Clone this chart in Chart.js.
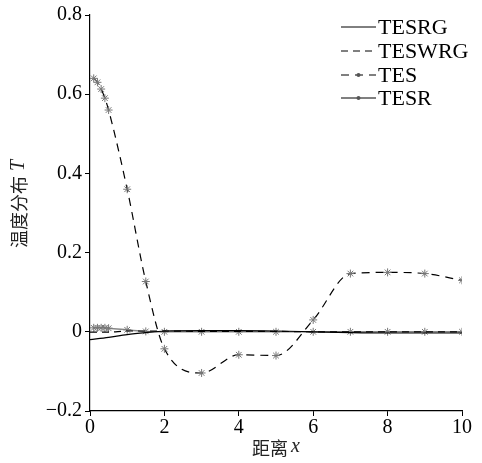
<!DOCTYPE html>
<html>
<head>
<meta charset="utf-8">
<script src="https://cdn.jsdelivr.net/npm/chart.js@4.4.0/dist/chart.umd.min.js"></script>
<style>
html,body{margin:0;padding:0;background:#fff;}
#wrap{width:482px;height:463px;}
</style>
</head>
<body>
<div id="wrap"><canvas id="c" width="482" height="463"></canvas></div>
<script>
// ---- data ----
const seriesNames = ["TESRG", "TESWRG", "TES", "TESR"];
const xLine = [0, 0.5, 1, 1.5, 2, 3, 4, 5, 6, 7, 8, 9, 10];
const tesrg = [-0.02, -0.014, -0.007, -0.002, 0.002, 0.003, 0.003, 0.002, 0.0, -0.002, -0.003, -0.003, -0.003];
const teswrg = [-0.001, -0.001, 0.002, 0.002, 0.002, 0.001, 0.001, 0.001, 0.0, 0.0, 0.0, 0.0, 0.0];
const xMark = [0.1, 0.2, 0.3, 0.4, 0.5, 1, 1.5, 2, 3, 4, 5, 6, 7, 8, 9, 10];
const tes = [0.64, 0.63, 0.613, 0.59, 0.56, 0.36, 0.127, -0.043, -0.104, -0.058, -0.06, 0.03, 0.147, 0.15, 0.147, 0.13];
const tesr = [0.01, 0.01, 0.01, 0.01, 0.009, 0.005, 0.001, 0.0, 0.0, 0.0, 0.0, 0.0, 0.0, 0.0, 0.0, 0.0];
const xTicks = [0, 2, 4, 6, 8, 10];
const yTicks = [-0.2, 0, 0.2, 0.4, 0.6, 0.8];
const yTickLabels = ["\u22120.2", "0", "0.2", "0.4", "0.6", "0.8"];
const xTitle = ["距离", "x"];
const yTitle = ["温度分布", "T"];

const pts = (xs, ys) => xs.map((x, i) => ({x: x, y: ys[i]}));

const serif = '"Liberation Serif", "Times New Roman", serif';
const cjk = '"Noto Sans CJK SC", sans-serif';

const legendPlugin = {
  id: 'customLegend',
  afterDraw(chart) {
    const ctx = chart.ctx;
    const x0 = 341, x1 = 376, tx = 378;
    const ys = [27, 51, 75, 98];
    chart.data.datasets.forEach((ds, i) => {
      const y = ys[i];
      ctx.save();
      ctx.strokeStyle = '#000';
      ctx.lineWidth = 1;
      ctx.setLineDash(ds.borderDash || []);
      ctx.beginPath();
      ctx.moveTo(x0, y); ctx.lineTo(x1, y);
      ctx.stroke();
      ctx.setLineDash([]);
      if (ds.pointRadius > 0) {
        ctx.fillStyle = '#555';
        ctx.beginPath();
        ctx.arc((x0 + x1) / 2, y, 2, 0, Math.PI * 2);
        ctx.fill();
      }
      ctx.fillStyle = '#000';
      ctx.font = '22px ' + serif;
      ctx.textBaseline = 'middle';
      ctx.textAlign = 'left';
      ctx.fillText(ds.label, tx, y + 1);
      ctx.restore();
    });
  }
};

const titlePlugin = {
  id: 'axisTitles',
  afterDraw(chart) {
    const ctx = chart.ctx;
    const a = chart.chartArea;
    ctx.save();
    ctx.fillStyle = '#222';
    ctx.textBaseline = 'middle';
    // x title
    ctx.font = '18px ' + cjk;
    const w1 = ctx.measureText(xTitle[0]).width;
    ctx.font = 'italic 20px ' + serif;
    const w2 = ctx.measureText(xTitle[1]).width;
    const total = w1 + 3 + w2;
    const cx = (a.left + a.right) / 2;
    let sx = cx - total / 2;
    ctx.font = '18px ' + cjk;
    ctx.fillText(xTitle[0], sx, 448);
    ctx.font = 'italic 20px ' + serif;
    ctx.fillText(xTitle[1], sx + w1 + 3, 447);
    // y title
    ctx.translate(19, 204);
    ctx.rotate(-Math.PI / 2);
    ctx.font = '18px ' + cjk;
    const v1 = ctx.measureText(yTitle[0]).width;
    ctx.font = 'italic 20px ' + serif;
    const v2 = ctx.measureText(yTitle[1]).width;
    const tot2 = v1 + 5 + v2;
    ctx.font = '18px ' + cjk;
    ctx.fillText(yTitle[0], -tot2 / 2, 0);
    ctx.font = 'italic 20px ' + serif;
    ctx.fillText(yTitle[1], -tot2 / 2 + v1 + 5, 0);
    ctx.restore();
  }
};

new Chart(document.getElementById('c'), {
  type: 'line',
  data: {
    datasets: [
      {label: seriesNames[0], data: pts(xLine, tesrg), borderColor: '#000', borderWidth: 1.2, pointRadius: 0, cubicInterpolationMode: 'monotone'},
      {label: seriesNames[1], data: pts(xLine, teswrg), borderColor: '#000', borderWidth: 1.2, borderDash: [7, 5], pointRadius: 0, cubicInterpolationMode: 'monotone'},
      {label: seriesNames[2], data: pts(xMark, tes), borderColor: '#000', borderWidth: 1.2, borderDash: [8, 6], pointStyle: 'star', pointRadius: 4, pointBorderColor: '#777', pointBorderWidth: 1, cubicInterpolationMode: 'monotone'},
      {label: seriesNames[3], data: pts(xMark, tesr), borderColor: '#888', borderWidth: 1.5, pointStyle: 'star', pointRadius: 4, pointBorderColor: '#777', pointBorderWidth: 1, cubicInterpolationMode: 'monotone'}
    ]
  },
  options: {
    responsive: false,
    animation: false,
    layout: {padding: {left: 0, right: 20, top: 15, bottom: 0}},
    plugins: {legend: {display: false}, tooltip: {enabled: false}},
    scales: {
      x: {
        type: 'linear', min: 0, max: 10,
        afterFit(s) { s.height = 52; },
        afterBuildTicks(s) { s.ticks = xTicks.map(v => ({value: v})); },
        ticks: {color: '#000', font: {family: serif, size: 20}, padding: 0, maxRotation: 0, callback: v => String(v)},
        grid: {drawOnChartArea: false, drawTicks: true, tickLength: 5, color: '#000'},
        border: {display: true, color: '#000', width: 1.2}
      },
      y: {
        type: 'linear', min: -0.2, max: 0.8,
        afterFit(s) { s.width = 90; },
        afterBuildTicks(s) { s.ticks = yTicks.map(v => ({value: v})); },
        ticks: {color: '#000', font: {family: serif, size: 20}, padding: 3,
          callback: (v) => { const i = yTicks.findIndex(t => Math.abs(t - v) < 1e-9); return i >= 0 ? yTickLabels[i] : ''; }},
        grid: {drawOnChartArea: false, drawTicks: true, tickLength: 5, color: '#000'},
        border: {display: true, color: '#000', width: 1.2}
      }
    }
  },
  plugins: [legendPlugin, titlePlugin]
});
</script>
</body>
</html>
